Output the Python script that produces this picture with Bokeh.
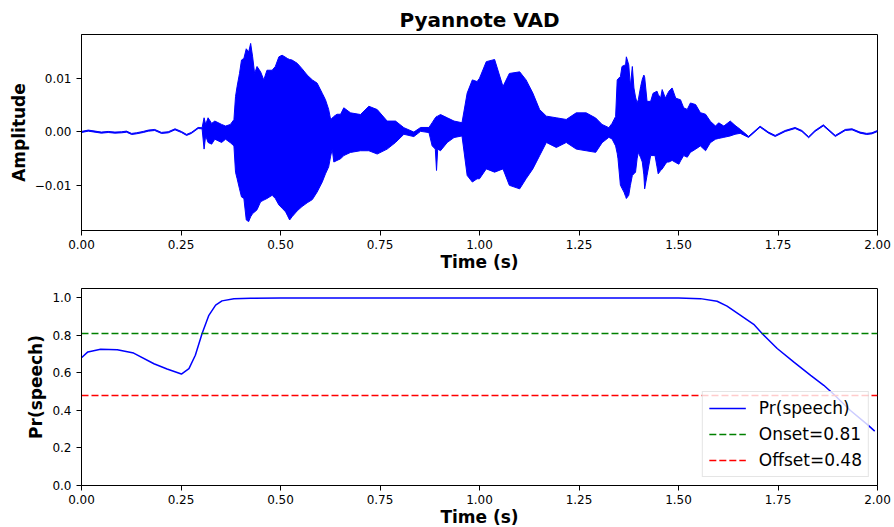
import numpy as np
from bokeh.plotting import figure
from bokeh.layouts import column
from bokeh.models import FixedTicker, NumeralTickFormatter, Range1d
from bokeh.embed import file_html
from bokeh.resources import INLINE

# ---------------- data ----------------
# waveform envelope: time (s), upper and lower amplitude (units of 1e-3)
wave_t = [0.000, 0.017, 0.034, 0.050, 0.067, 0.084, 0.101, 0.113, 0.126, 0.138,
          0.155, 0.168, 0.184, 0.201, 0.218, 0.235, 0.251, 0.264, 0.276, 0.293,
          0.303, 0.308, 0.312, 0.318, 0.327, 0.335, 0.352,
          0.362, 0.374, 0.383, 0.387, 0.391, 0.397, 0.402, 0.408, 0.414, 0.420,
          0.425, 0.430, 0.435, 0.441, 0.450, 0.458, 0.466, 0.479, 0.487, 0.496,
          0.504, 0.513, 0.517, 0.523, 0.529, 0.542, 0.554, 0.567, 0.580, 0.592,
          0.605, 0.613, 0.621, 0.626, 0.630, 0.634, 0.642, 0.651, 0.659,
          0.676, 0.701, 0.722, 0.743, 0.768, 0.789, 0.810, 0.835, 0.852,
          0.873, 0.881, 0.889, 0.892, 0.895, 0.902, 0.919, 0.936, 0.956, 0.969,
          0.982, 0.994, 1.000, 1.017, 1.038, 1.059, 1.075, 1.101, 1.117, 1.134,
          1.151, 1.168, 1.193, 1.218, 1.243, 1.268,
          1.292, 1.308, 1.325, 1.333, 1.342, 1.346, 1.348, 1.354, 1.358, 1.363,
          1.367, 1.369, 1.375, 1.379, 1.384, 1.388, 1.392, 1.396, 1.399, 1.405,
          1.409, 1.413, 1.415, 1.421, 1.430, 1.436, 1.441, 1.446, 1.449, 1.455,
          1.459, 1.467, 1.471, 1.476, 1.484, 1.493, 1.501, 1.505, 1.513, 1.522,
          1.530, 1.543, 1.555, 1.568, 1.580, 1.593, 1.601, 1.614,
          1.630, 1.642, 1.655,
          1.676, 1.705, 1.726, 1.743, 1.768, 1.793, 1.810, 1.827, 1.843, 1.864,
          1.894, 1.919, 1.936, 1.956, 1.973, 1.986, 2.000]
wave_hi = [0.10, 0.35, 0.16, -0.02, 0.10, -0.02, 0.04, 0.16, -0.27, -0.15,
           0.10, 0.35, 0.47, -0.08, 0.04, 0.59, 0.10, -0.45, -0.08, 0.84,
           0.78, 2.64, 1.40, 2.64, 1.60, 2.03, 1.41,
           1.1, 1.4, 2.3, 6.6, 8.5, 10.9, 13.4, 13.7, 15.5, 14.9,
           16.5, 14.0, 10.9, 12.2, 11.2, 9.7, 11.5, 11.5, 12.2, 14.0,
           14.3, 13.9, 13.7, 13.5, 13.4, 12.8, 11.8, 10.6, 9.7, 9.1,
           7.2, 6.0, 4.2, 2.3, 2.6, 2.9, 3.3, 3.3, 4.5,
           3.56, 3.25, 4.79, 4.17, 2.03, 2.03, 0.80, -0.02, 0.84,
           0.84, 1.72, 2.64, 2.90, 2.95, 3.25, 2.64, 2.03, 1.72, 7.24,
           9.70, 9.39, 10.0, 13.1, 13.5, 8.47, 10.9, 11.2, 9.70, 7.24,
           4.17, 2.95, 2.64, 2.33, 3.56, 3.56,
           2.6, 1.4, 0.8, 1.6, 2.9, 9.7, 9.9, 10.3, 12.2, 12.4,
           12.5, 14.0, 12.5, 8.5, 12.2, 8.2, 6.5, 5.4, 6.0, 8.5,
           9.8, 10.6, 10.2, 5.7, 5.7, 7.2, 7.4, 7.6, 7.0, 6.3,
           7.9, 6.3, 6.9, 7.6, 8.2, 6.3, 6.1, 6.0, 4.5, 4.2,
           5.4, 5.1, 3.6, 3.3, 2.0, 1.1, 1.7, 1.1,
           2.03, 1.23, 0.49,
           -0.82, 1.08, -0.02, -0.64, 0.28, 0.84, 0.28, -0.88, 0.28, 1.33,
           -0.64, 0.47, 0.59, -0.02, -0.27, -0.15, 0.28]
wave_lo = [-0.10, 0.15, -0.04, -0.22, -0.10, -0.22, -0.16, -0.04, -0.47, -0.35,
           -0.10, 0.15, 0.27, -0.28, -0.16, 0.39, -0.10, -0.65, -0.28, 0.64,
           0.58, -3.19, -0.70, -1.96, -2.27, -1.35, -1.96,
           -1.35, -2.0, -2.6, -7.5, -8.7, -10.6, -12.1, -12.4, -16.4, -16.7,
           -15.8, -15.2, -14.9, -14.5, -13.0, -12.7, -12.4, -11.8, -12.4, -13.6,
           -14.2, -14.9, -15.5, -16.4, -15.8, -14.7, -13.9, -13.2, -12.6, -11.2,
           -9.3, -7.8, -6.5, -4.5, -3.2, -5.6, -5.3, -5.0, -4.4,
           -3.81, -3.50, -3.50, -4.11, -3.19, -1.96, -0.43, -0.86, 0.12,
           -0.12, -2.58, -3.19, -7.18, -3.19, -3.50, -1.96, -1.04, -0.74, -8.10,
           -9.33, -8.72, -8.72, -6.88, -7.49, -6.88, -9.94, -10.6, -8.72, -6.88,
           -4.42, -1.96, -2.89, -1.96, -3.19, -3.50,
           -3.8, -2.0, -1.0, -1.3, -2.6, -4.0, -5.0, -9.9, -10.5, -11.2,
           -12.0, -12.4, -11.8, -10.0, -8.1, -7.8, -7.5, -5.0, -3.8, -4.8,
           -5.6, -8.0, -10.6, -8.1, -4.4, -4.4, -4.4, -6.5, -7.8, -7.2,
           -6.9, -6.0, -5.6, -5.6, -5.3, -5.7, -6.0, -5.4, -4.4, -4.7,
           -3.8, -3.2, -2.6, -3.5, -2.0, -1.35, -1.2, -1.0,
           -0.74, -0.43, -0.25,
           -1.02, 0.88, -0.22, -0.84, 0.08, 0.64, 0.08, -1.08, 0.08, 1.13,
           -0.84, 0.27, 0.39, -0.22, -0.47, -0.35, 0.08]

# speech probability curve
prob_t = [0.000, 0.016, 0.048, 0.090, 0.131, 0.182, 0.215, 0.251, 0.270, 0.286,
          0.303, 0.320, 0.337, 0.353, 0.383, 0.425, 0.500, 1.000, 1.500, 1.555,
          1.597, 1.622, 1.656, 1.689, 1.710, 1.748, 1.790, 1.832, 1.865, 1.890,
          1.932, 1.974, 1.993]
prob_v = [0.681, 0.712, 0.726, 0.724, 0.706, 0.649, 0.621, 0.594, 0.623, 0.694,
          0.810, 0.907, 0.961, 0.984, 0.995, 0.998, 1.000, 1.000, 0.999, 0.996,
          0.982, 0.956, 0.907, 0.859, 0.810, 0.730, 0.658, 0.587, 0.534, 0.486,
          0.400, 0.326, 0.290]

onset = 0.81
offset = 0.48
x_ticks = [0.00, 0.25, 0.50, 0.75, 1.00, 1.25, 1.50, 1.75, 2.00]
amp_ticks = [-0.01, 0.0, 0.01]
amp_labels = {-0.01: "\u22120.01", 0.0: "0.00", 0.01: "0.01"}
prob_ticks = [0.0, 0.2, 0.4, 0.6, 0.8, 1.0]

# ---------------- helpers ----------------
FONT = "DejaVu Sans"


def style(p, xlabel, ylabel):
    p.xgrid.visible = False
    p.ygrid.visible = False
    p.outline_line_color = "black"
    p.outline_line_alpha = 1.0
    p.outline_line_width = 1
    p.background_fill_color = "white"
    p.border_fill_color = "white"
    for ax in (p.xaxis[0], p.yaxis[0]):
        ax.axis_line_color = "black"
        ax.major_tick_line_color = "black"
        ax.major_tick_out = 5
        ax.major_tick_in = 0
        ax.minor_tick_line_color = None
        ax.major_label_text_font = FONT
        ax.major_label_text_font_size = "12px"
        ax.major_label_text_color = "black"
        ax.axis_label_text_font = FONT
        ax.axis_label_text_font_size = "17px"
        ax.axis_label_text_font_style = "bold"
        ax.axis_label_text_color = "black"
    p.xaxis[0].axis_label = xlabel
    p.yaxis[0].axis_label = ylabel
    p.xaxis[0].ticker = FixedTicker(ticks=x_ticks)
    p.xaxis[0].formatter = NumeralTickFormatter(format="0.00")
    p.xaxis[0].major_label_standoff = 4
    p.xaxis[0].axis_label_standoff = 0
    p.yaxis[0].major_label_standoff = 5
    p.yaxis[0].axis_label_standoff = 3


# ---------------- top: waveform ----------------
t = np.array(wave_t)
hi = np.array(wave_hi) * 1e-3
lo = np.array(wave_lo) * 1e-3
span = hi.max() - lo.min()
top = figure(frame_width=796, frame_height=196,
             min_border_left=81, min_border_right=17,
             min_border_top=34, min_border_bottom=40,
             x_range=Range1d(0, 2),
             y_range=Range1d(lo.min() - 0.05 * span, hi.max() + 0.05 * span),
             output_backend="svg", toolbar_location=None,
             title="Pyannote VAD")
top.title.align = "center"
top.title.text_font = FONT
top.title.text_font_size = "20px"
top.title.text_font_style = "bold"
top.title.text_color = "black"
top.title.standoff = 6
top.varea(x=t, y1=lo, y2=hi, fill_color="#0000ff")
top.line(t, hi, line_color="#0000ff", line_width=1)
top.line(t, lo, line_color="#0000ff", line_width=1)
style(top, "Time (s)", "Amplitude")
top.yaxis[0].ticker = FixedTicker(ticks=amp_ticks)
top.yaxis[0].major_label_overrides = amp_labels

# ---------------- bottom: probability ----------------
bot = figure(frame_width=796, frame_height=197,
             min_border_left=81, min_border_right=17,
             min_border_top=14, min_border_bottom=39,
             x_range=Range1d(0, 2), y_range=Range1d(0, 1.05),
             output_backend="svg", toolbar_location=None)
bot.line(prob_t, prob_v, line_color="#0000ff", line_width=1.5,
         legend_label="Pr(speech)")
bot.hspan(y=[onset], line_color="green", line_width=1.5, line_dash="7 3",
          legend_label=f"Onset={onset}")
bot.hspan(y=[offset], line_color="red", line_width=1.5, line_dash="7 3",
          legend_label=f"Offset={offset}")
style(bot, "Time (s)", "Pr(speech)")
bot.yaxis[0].ticker = FixedTicker(ticks=prob_ticks)
bot.yaxis[0].formatter = NumeralTickFormatter(format="0.0")

lg = bot.legend[0]
lg.location = "bottom_right"
lg.margin = 8
lg.padding = 6
lg.spacing = 6
lg.label_text_font = FONT
lg.label_text_font_size = "17px"
lg.label_text_color = "black"
lg.label_height = 20
lg.glyph_height = 20
lg.glyph_width = 37
lg.label_standoff = 13
lg.background_fill_alpha = 0.8
lg.border_line_color = "#cccccc"
lg.border_line_width = 1

layout = column(top, bot, spacing=0)
open("out.html", "w").write(file_html(layout, INLINE))
